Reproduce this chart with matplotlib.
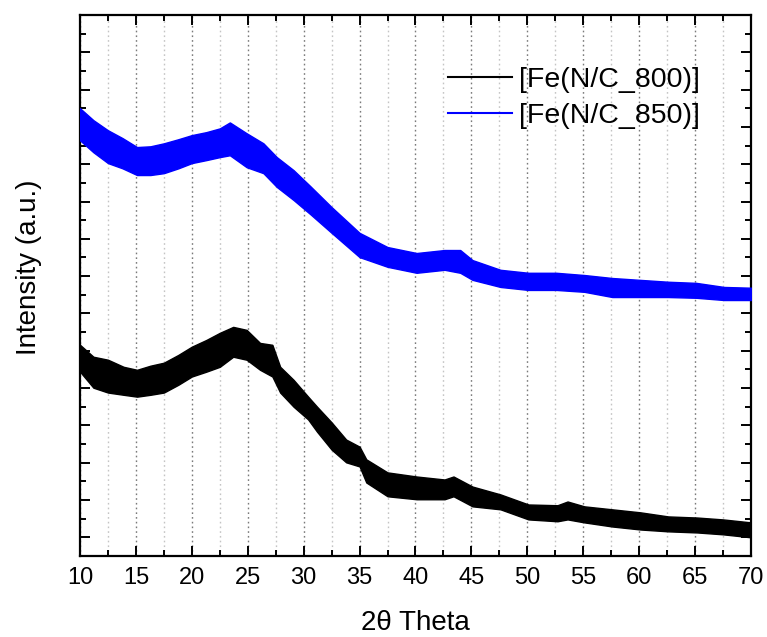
import matplotlib
matplotlib.use("Agg")
import matplotlib.pyplot as plt
from matplotlib.ticker import MultipleLocator, NullFormatter

plt.rcParams["font.family"] = ["Liberation Sans", "DejaVu Sans"]

# 2-theta positions (degrees) where the scan envelope was sampled
two_theta_850 = [10.0, 11.2, 12.5, 13.8, 15.1, 16.3, 17.5, 18.8, 20.0, 21.3,
                 22.5, 23.4, 24.9, 26.4, 27.6, 29.1, 30.6, 32.5, 35.0, 37.5,
                 40.1, 42.6, 44.0, 45.1, 47.6, 50.1, 52.6, 55.1, 57.6, 60.1,
                 62.6, 65.1, 67.6, 70.0]
# upper / lower edges of the noisy XRD trace, Fe(N/C_850) (offset, a.u.)
upper_850 = [1150, 1118, 1091, 1070, 1046, 1048, 1056, 1067, 1078, 1086,
             1096, 1112, 1083, 1056, 1019, 984, 941, 885, 816, 778,
             762, 770, 770, 743, 717, 709, 709, 703, 695, 690,
             685, 682, 671, 669]
lower_850 = [1064, 1032, 1003, 989, 971, 971, 976, 989, 1003, 1011,
             1019, 1024, 992, 976, 939, 904, 866, 816, 751, 725,
             709, 717, 709, 690, 671, 663, 663, 658, 644, 644,
             644, 642, 636, 636]

two_theta_800 = [10.0, 11.2, 12.5, 13.9, 15.1, 16.3, 17.5, 18.8, 20.0, 21.3,
                 22.5, 23.7, 24.9, 26.1, 27.2, 27.9, 29.1, 30.4, 31.2, 32.5,
                 33.8, 35.0, 35.6, 37.5, 40.1, 42.6, 43.4, 45.1, 47.6, 50.1,
                 52.7, 53.6, 55.1, 57.6, 60.1, 62.6, 65.2, 67.5, 70.0]
# upper / lower edges of the noisy XRD trace, Fe(N/C_800) (a.u.)
upper_800 = [516, 484, 476, 457, 449, 460, 468, 489, 511, 529,
             548, 564, 556, 521, 516, 457, 422, 377, 350, 308,
             262, 243, 209, 174, 163, 155, 163, 136, 115, 88,
             86, 96, 83, 75, 67, 56, 53, 48, 40]
lower_800 = [444, 401, 388, 382, 377, 382, 388, 409, 431, 444,
             457, 484, 476, 449, 431, 388, 350, 316, 283, 235,
             201, 190, 147, 110, 102, 102, 110, 83, 75, 48,
             43, 48, 40, 29, 21, 16, 13, 8, 0]

labels = ["[Fe(N/C_800)]", "[Fe(N/C_850)]"]
colors = ["#000000", "#0000ff"]

fig = plt.figure(figsize=(7.67, 6.37), dpi=100)
ax = fig.add_axes([0.1043, 0.1272, 0.8748, 0.8493])

series = [
    (two_theta_800, upper_800, lower_800),
    (two_theta_850, upper_850, lower_850),
]
for (x, up, lo), lab, col in zip(series, labels, colors):
    ax.fill_between(x, lo, up, color=col, linewidth=1.0, edgecolor=col, zorder=3)
    mid = [(u + l) / 2 for u, l in zip(up, lo)]
    ax.plot(x, mid, color=col, lw=1.5, label=lab, zorder=3)

ax.set_xlim(10, 70)
ax.set_ylim(-50, 1400)

ax.xaxis.set_major_locator(MultipleLocator(5))
ax.xaxis.set_minor_locator(MultipleLocator(2.5))
ax.yaxis.set_major_locator(MultipleLocator(100))
ax.yaxis.set_minor_locator(MultipleLocator(50))
ax.yaxis.set_major_formatter(NullFormatter())

# dotted vertical guides at every 2.5 degrees
ax.grid(axis="x", which="major", color="#7a7a7a", linestyle=(0, (1.2, 2.2)), lw=1.0, zorder=0)
ax.grid(axis="x", which="minor", color="#c4c4c4", linestyle=(0, (1.2, 2.2)), lw=1.0, zorder=0)
ax.set_axisbelow(True)

ax.tick_params(which="both", direction="in", top=True, right=True, width=1.4, colors="black")
ax.tick_params(which="major", length=7)
ax.tick_params(which="minor", length=4)
ax.tick_params(axis="x", labelsize=17, pad=8)
for s in ax.spines.values():
    s.set_linewidth(1.6)

ax.set_xlabel("2θ Theta", fontsize=20, labelpad=15)
ax.set_ylabel("Intensity (a.u.)", fontsize=20)
ax.yaxis.set_label_coords(-0.057, 0.534)

leg = ax.legend(loc="upper left", bbox_to_anchor=(0.548, 0.903), frameon=False,
                fontsize=20.5, handlelength=2.25, handletextpad=0.25,
                labelspacing=0.33, borderpad=0, borderaxespad=0)

fig.savefig("out.png", dpi=100)
